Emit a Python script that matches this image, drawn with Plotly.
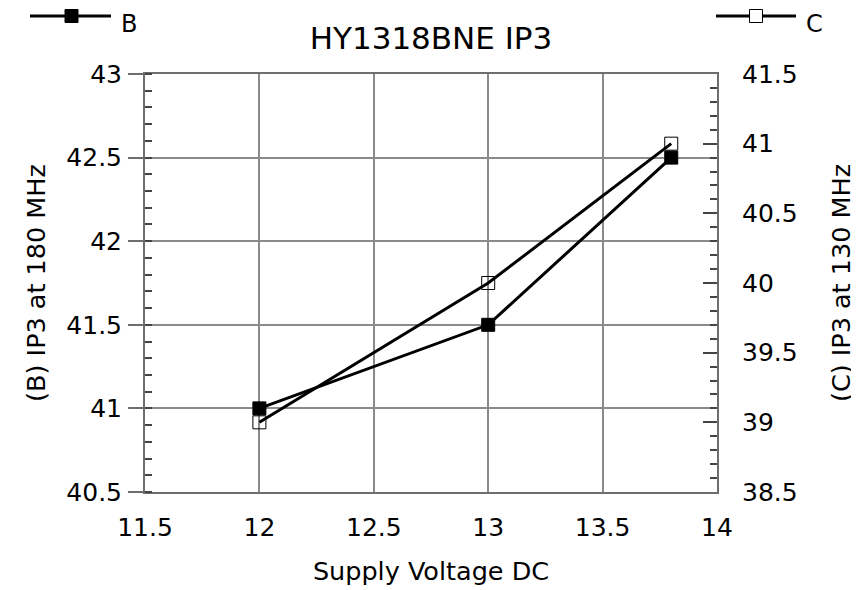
import plotly.graph_objects as go

# Data
voltage = [12, 13, 13.8]
ip3_b = [41.0, 41.5, 42.5]   # (B) IP3 at 180 MHz, left axis
ip3_c = [39.0, 40.0, 41.0]   # (C) IP3 at 130 MHz, right axis

FONT = "DejaVu Sans"
FS = 25
FS_LEG = 24
FS_TITLE = 31
FS_AX = 25.5
GRID = "#8a8a8a"
AXL = "#6e6e6e"

# page has an 8px body margin; work in page pixel coordinates
OFF = 8
W, H = 859 - OFF, 590 - OFF
PL, PR, PT, PB = 145, 717, 74, 492          # plot area in page pixels
L, T = PL - OFF, PT - OFF
R, B = W - (PR - OFF), H - (PB - OFF)

def px(x):
    return (x - PL) / (PR - PL)

def py(y):
    return (PB - y) / (PB - PT)

fig = go.Figure()
fig.add_trace(go.Scatter(x=voltage, y=ip3_b, mode="lines+markers", name="B",
                         line=dict(color="black", width=3),
                         marker=dict(symbol="square", size=13, color="black",
                                     line=dict(color="black", width=1)),
                         yaxis="y", showlegend=False))
fig.add_trace(go.Scatter(x=voltage, y=ip3_c, mode="lines+markers", name="C",
                         line=dict(color="black", width=3),
                         marker=dict(symbol="square-open", size=13, color="black",
                                     line=dict(color="black", width=1)),
                         yaxis="y2", showlegend=False))

shapes = []
annots = []
# manual legend B (top-left) and C (top-right)
for (x0, x1, mx, ly, filled, label, tx, ty) in [
        (30, 111, 71.5, 16, True, "B", 119, 24),
        (716, 796, 756, 16, False, "C", 804, 24)]:
    shapes.append(dict(type="line", xref="paper", yref="paper",
                       x0=px(x0), x1=px(x1), y0=py(ly), y1=py(ly),
                       line=dict(color="black", width=3)))
    shapes.append(dict(type="rect", xref="paper", yref="paper",
                       x0=px(mx - 6.5), x1=px(mx + 6.5), y0=py(ly - 6.5), y1=py(ly + 6.5),
                       fillcolor="black" if filled else "white",
                       line=dict(color="black", width=1)))
    annots.append(dict(text=label, xref="paper", yref="paper", x=px(tx), y=py(ty),
                       xanchor="left", yanchor="middle", showarrow=False,
                       font=dict(family=FONT, size=FS_LEG, color="black")))

fig.update_layout(
    width=W, height=H,
    margin=dict(l=L, r=R, t=T, b=B, autoexpand=False),
    paper_bgcolor="white", plot_bgcolor="white",
    font=dict(family=FONT, size=FS, color="black"),
    title=dict(text="HY1318BNE IP3", x=0.5, xref="paper", xanchor="center",
               y=1 - (38 - OFF) / H, yref="container", yanchor="middle",
               font=dict(family=FONT, size=FS_TITLE, color="black")),
    xaxis=dict(range=[11.5, 14], dtick=0.5, tick0=11.5, showgrid=True,
               gridcolor=GRID, gridwidth=2, showline=True, linecolor=AXL,
               linewidth=2, mirror=True, ticks="", zeroline=False,
               ticklabelstandoff=12,
               title=dict(text="Supply Voltage DC", standoff=21,
                          font=dict(family=FONT, size=FS_AX))),
    yaxis=dict(range=[40.5, 43], dtick=0.5, tick0=40.5, showgrid=True,
               gridcolor=GRID, gridwidth=2, showline=True, linecolor=AXL,
               linewidth=2, mirror=True, ticks="outside", ticklen=15,
               tickcolor=AXL, tickwidth=2, zeroline=False,
               ticklabelstandoff=1,
               minor=dict(dtick=0.1, ticks="inside", ticklen=7,
                          tickcolor="#444", tickwidth=1.5, showgrid=False),
               title=dict(text="(B) IP3 at 180 MHz", standoff=13,
                          font=dict(family=FONT, size=FS_AX))),
    yaxis2=dict(range=[38.5, 41.5], dtick=0.5, tick0=38.5, overlaying="y",
                side="right", showgrid=False, showline=True, linecolor=AXL,
                linewidth=2, ticks="inside", ticklen=14, tickcolor="#444",
                tickwidth=2, zeroline=False, ticklabelstandoff=18,
                minor=dict(dtick=0.1, ticks="inside", ticklen=7,
                           tickcolor="#444", tickwidth=1.5, showgrid=False),
                title=dict(text="(C) IP3 at 130 MHz", standoff=35,
                           font=dict(family=FONT, size=FS_AX))),
    shapes=shapes, annotations=annots,
)

fig.write_html("out.html")
